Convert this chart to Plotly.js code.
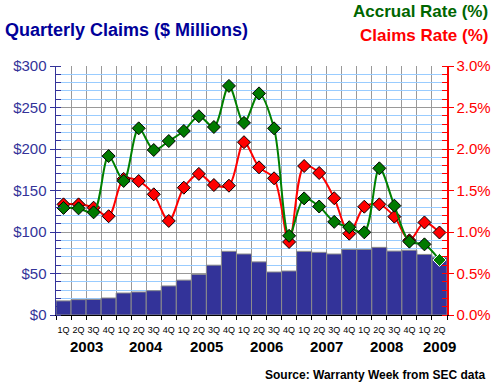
<!DOCTYPE html>
<html>
<head>
<meta charset="utf-8">
<script src="https://cdn.plot.ly/plotly-3.0.1.min.js"></script>
<style>html,body{margin:0;padding:0;background:#fff;}#chart{width:500px;height:387px;}</style>
</head>
<body>
<div id="chart"></div>
<script>
// Quarter labels and year labels
const quarters = ["1Q","2Q","3Q","4Q","1Q","2Q","3Q","4Q","1Q","2Q","3Q","4Q","1Q","2Q","3Q","4Q","1Q","2Q","3Q","4Q","1Q","2Q","3Q","4Q","1Q","2Q"];
const years = ["2003","2004","2005","2006","2007","2008","2009"];
const yearPos = [1.5, 5.5, 9.5, 13.5, 17.5, 21.5, 25];
// Quarterly claims, $ millions
const claims = [17, 18.5, 18.8, 20.5, 26.5, 27.7, 29.3, 35, 42, 49, 60, 76.7, 73.5, 64, 51.8, 53, 76.7, 75.5, 73.5, 79, 79, 81.5, 77, 78, 73, 69.5];
// Accrual rate, %
const accrualRate = [1.29, 1.285, 1.237, 1.915, 1.615, 2.249, 1.988, 2.096, 2.217, 2.395, 2.265, 2.76, 2.315, 2.67, 2.249, 0.954, 1.405, 1.307, 1.122, 1.058, 0.996, 1.767, 1.317, 0.884, 0.851, 0.663];
// Claims rate, %
const claimsRate = [1.333, 1.333, 1.293, 1.19, 1.64, 1.614, 1.454, 1.133, 1.534, 1.70, 1.566, 1.558, 2.082, 1.779, 1.647, 0.88, 1.795, 1.711, 1.407, 0.98, 1.305, 1.333, 1.185, 0.9, 1.115, 0.994];

const xIdx = quarters.map((q, i) => i);
const FONT = "Liberation Sans, Arial, sans-serif";

const traces = [
  {
    type: "bar", x: xIdx, y: claims, yaxis: "y",
    marker: {color: "#333399", line: {color: "#8c8c8c", width: 1}},
    hoverinfo: "skip"
  },
  {
    type: "scatter", mode: "lines+markers", x: xIdx, y: claimsRate, yaxis: "y2",
    line: {color: "#ff0000", width: 2, shape: "spline", smoothing: 0.9},
    marker: {symbol: "diamond", size: 10, color: "#ff0000", line: {color: "#000", width: 1}},
    hoverinfo: "skip"
  },
  {
    type: "scatter", mode: "lines+markers", x: xIdx, y: accrualRate, yaxis: "y2",
    line: {color: "#008000", width: 2, shape: "spline", smoothing: 0.9},
    marker: {symbol: "diamond", size: 10, color: "#007a00",
      line: {color: accrualRate.map((v, i) => i === accrualRate.length - 1 ? "#ffffff" : "#000000"), width: 1}},
    hoverinfo: "skip"
  }
];

const annotations = years.map((y, i) => ({
  text: y, x: yearPos[i], xref: "x", y: -0.128, yref: "paper",
  xanchor: "center", yanchor: "middle", showarrow: false,
  font: {family: FONT, size: 15, color: "#000", weight: "bold"}
}));
annotations.push(
  {text: "Accrual Rate (%)", xref: "paper", yref: "paper", x: 1.11, y: 1.217, xanchor: "right", yanchor: "middle",
   showarrow: false, font: {family: FONT, size: 17, color: "#006600", weight: "bold"}},
  {text: "Claims Rate (%)", xref: "paper", yref: "paper", x: 1.11, y: 1.124, xanchor: "right", yanchor: "middle",
   showarrow: false, font: {family: FONT, size: 17, color: "#ff0000", weight: "bold"}},
  {text: "Source: Warranty Week from SEC data", xref: "paper", yref: "paper", x: 1.102, y: -0.241,
   xanchor: "right", yanchor: "middle", showarrow: false,
   font: {family: FONT, size: 12, color: "#000", weight: "bold"}}
);

const layout = {
  width: 500, height: 387,
  margin: {l: 56, r: 53, t: 66, b: 72, pad: 0},
  paper_bgcolor: "#fff", plot_bgcolor: "#fff",
  showlegend: false, bargap: 0,
  title: {text: "Quarterly Claims ($ Millions)", x: 0.01, xanchor: "left", xref: "container",
          y: 1 - 30/387, yanchor: "middle", yref: "container",
          font: {family: FONT, size: 18, color: "#000099", weight: "bold"}},
  xaxis: {
    range: [-0.5, 25.5], tickmode: "array", tickvals: xIdx, ticktext: quarters,
    ticks: "", showgrid: false, zeroline: false, ticklabelstandoff: 6,
    showline: true, linecolor: "#000", linewidth: 1,
    tickfont: {family: FONT, size: 9, color: "#000"},
    minor: {tick0: -0.5, dtick: 1, ticks: "outside", ticklen: 4, tickcolor: "#000",
            showgrid: true, gridcolor: "#999999", gridwidth: 1}
  },
  yaxis: {
    range: [0, 300], dtick: 50, tickprefix: "$", zeroline: false,
    showline: true, linecolor: "#333399", linewidth: 1.5,
    ticks: "outside", ticklen: 5, tickcolor: "#333399",
    showgrid: true, gridcolor: "#999999", gridwidth: 1,
    tickfont: {family: FONT, size: 15, color: "#333399"},
    minor: {dtick: 10, ticks: "inside", ticklen: 5, tickcolor: "#333399",
            showgrid: true, gridcolor: "#99ccff", gridwidth: 1}
  },
  yaxis2: {
    overlaying: "y", side: "right", range: [0, 3], dtick: 0.5, tickformat: ".1f", ticksuffix: "%",
    showgrid: false, zeroline: false,
    showline: true, linecolor: "#ff0000", linewidth: 1.5,
    ticks: "outside", ticklen: 5, tickcolor: "#ff0000",
    tickfont: {family: FONT, size: 15, color: "#ff0000"},
    minor: {dtick: 0.1, ticks: "inside", ticklen: 5, tickcolor: "#ff0000", showgrid: false}
  },
  annotations: annotations
};

Plotly.newPlot("chart", traces, layout, {displayModeBar: false, staticPlot: true});
</script>
</body>
</html>
